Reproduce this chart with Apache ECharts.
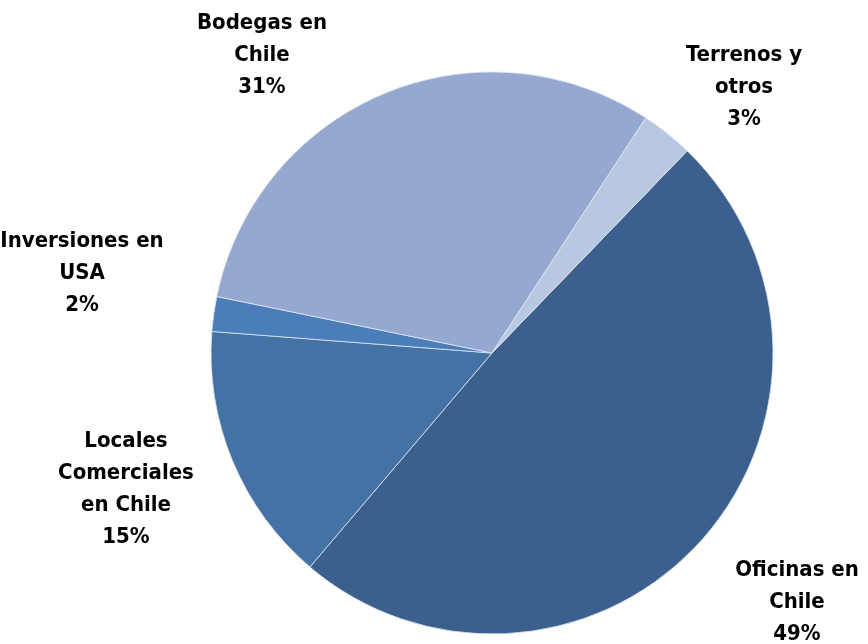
<!DOCTYPE html>
<html>
<head>
<meta charset="utf-8">
<script src="https://cdn.jsdelivr.net/npm/echarts@6/dist/echarts.min.js"></script>
<style>
  html, body { margin: 0; padding: 0; background: #fff; }
  #chart { width: 868px; height: 644px; }
</style>
</head>
<body>
<div id="chart"></div>
<script>
// categories and shares (%)
const categories = ['Oficinas en\nChile', 'Locales\nComerciales\nen Chile', 'Inversiones en\nUSA', 'Bodegas en\nChile', 'Terrenos y\notros'];
const shares = [49, 15, 2, 31, 3];
const colors = ['#3b608e', '#4472a5', '#4a7ebb', '#95a9d0', '#b9c8e1'];

// where each label block sits (center)
const labelPos = [[797, 602], [126, 489], [82, 273], [262, 55], [744, 87]];

const chart = echarts.init(document.getElementById('chart'));
chart.setOption({
  animation: false,
  series: [{
    type: 'pie',
    center: [492, 353],
    radius: 281,
    startAngle: 46,
    clockwise: true,
    avoidLabelOverlap: false,
    itemStyle: { borderColor: '#dfe6f0', borderWidth: 0.8 },
    label: {
      show: true,
      position: 'outside',
      formatter: p => p.name + '\n' + p.value + '%',
      fontFamily: 'DejaVu Sans Condensed',
      fontWeight: 'bold',
      fontSize: 22,
      lineHeight: 32,
      color: '#000',
      align: 'center'
    },
    labelLine: { show: false },
    labelLayout: params => {
      const pos = labelPos[params.dataIndex];
      return { x: pos[0], y: pos[1], align: 'center', verticalAlign: 'middle' };
    },
    data: categories.map((c, i) => ({ name: c, value: shares[i], itemStyle: { color: colors[i] } }))
  }]
});
</script>
</body>
</html>
